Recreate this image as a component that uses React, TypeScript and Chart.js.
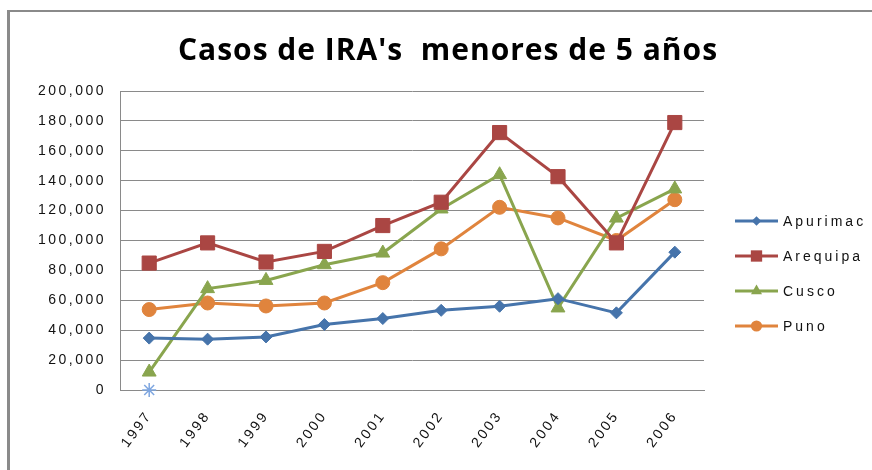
import React, { useEffect, useRef } from 'react';
import { Chart, registerables } from 'chart.js';

Chart.register(...registerables);

const TITLE = "Casos de IRA's  menores de 5 años";
const years = ['1997', '1998', '1999', '2000', '2001', '2002', '2003', '2004', '2005', '2006'];
const seriesNames = ['Apurimac', 'Arequipa', 'Cusco', 'Puno'];
const apurimac = [34700, 34000, 35500, 43800, 47800, 53300, 56000, 61100, 51600, 92200];
const arequipa = [84900, 98400, 85600, 92700, 110000, 125600, 172200, 142700, 98400, 178900];
const cusco = [12000, 67800, 73300, 83800, 91600, 121100, 144000, 54900, 115000, 134500];
const puno = [53800, 58200, 56200, 58200, 71800, 94400, 122200, 115100, 100000, 127300];
const stray = [0, null, null, null, null, null, null, null, null, null];

const yMin = 0;
const yMax = 200000;
const yStep = 20000;

const colors = ['#4674AB', '#AA4643', '#89A54E', '#E0843D'];
const pointStyles = ['rectRot', 'rect', 'triangle', 'circle'];
const pointRadii = [6, 10, 8, 7];

const TICK_FONT = { family: 'Liberation Sans', size: 14 };
const SPACING = '2.5px';

function drawMarker(ctx: CanvasRenderingContext2D, style: string, x: number, y: number, r: number) {
  ctx.beginPath();
  if (style === 'rectRot') {
    ctx.moveTo(x, y - r);
    ctx.lineTo(x + r, y);
    ctx.lineTo(x, y + r);
    ctx.lineTo(x - r, y);
    ctx.closePath();
  } else if (style === 'rect') {
    const s = r * Math.SQRT1_2;
    ctx.rect(x - s, y - s, 2 * s, 2 * s);
  } else if (style === 'triangle') {
    ctx.moveTo(x, y - r);
    ctx.lineTo(x + r * 0.866, y + r * 0.5);
    ctx.lineTo(x - r * 0.866, y + r * 0.5);
    ctx.closePath();
  } else {
    ctx.arc(x, y, r, 0, Math.PI * 2);
  }
  ctx.fill();
}

const decorPlugin = {
  id: 'decor',
  beforeUpdate(chart: any) {
    chart.ctx.letterSpacing = SPACING;
  },
  beforeDraw(chart: any) {
    const ctx = chart.ctx as CanvasRenderingContext2D;
    ctx.save();
    ctx.fillStyle = '#ffffff';
    ctx.fillRect(0, 0, chart.width, chart.height);
    ctx.fillStyle = '#8a8a8a';
    ctx.fillRect(7, 10, chart.width - 7, 2);
    ctx.fillRect(7, 10, 3, chart.height - 10);
    ctx.restore();
    (ctx as any).letterSpacing = SPACING;
  },
  afterDraw(chart: any) {
    const ctx = chart.ctx as CanvasRenderingContext2D;
    ctx.save();
    (ctx as any).letterSpacing = '1px';
    ctx.fillStyle = '#000000';
    ctx.font = 'bold 30px "Open Sans"';
    ctx.textAlign = 'center';
    ctx.textBaseline = 'alphabetic';
    ctx.fillText(TITLE, 448, 60);

    (ctx as any).letterSpacing = '3px';
    ctx.font = '14px "Liberation Sans"';
    ctx.textAlign = 'left';
    ctx.textBaseline = 'middle';
    seriesNames.forEach((name, i) => {
      const y = 221 + i * 35;
      ctx.strokeStyle = colors[i];
      ctx.fillStyle = colors[i];
      ctx.lineWidth = 3;
      ctx.beginPath();
      ctx.moveTo(735, y);
      ctx.lineTo(778, y);
      ctx.stroke();
      drawMarker(ctx, pointStyles[i], 756.5, y, pointRadii[i] * 0.8);
      ctx.fillStyle = '#111111';
      ctx.fillText(name, 783, y + 1);
    });
    ctx.restore();
  },
};

export default function App() {
  const ref = useRef<HTMLCanvasElement>(null);

  useEffect(() => {
    if (!ref.current) return;
    const seriesData = [apurimac, arequipa, cusco, puno];
    const datasets: any[] = seriesData.map((d, i) => ({
      label: seriesNames[i],
      data: d,
      borderColor: colors[i],
      backgroundColor: colors[i],
      borderWidth: 3,
      pointStyle: pointStyles[i],
      pointRadius: pointRadii[i],
      pointBorderWidth: 1,
      pointBackgroundColor: colors[i],
      pointBorderColor: colors[i],
      tension: 0,
      clip: false,
    }));
    datasets.push({
      label: '',
      data: stray,
      borderColor: '#7EA6E0',
      backgroundColor: '#7EA6E0',
      borderWidth: 0,
      showLine: false,
      pointStyle: 'star',
      pointRadius: 7,
      pointBorderWidth: 1.5,
      pointBorderColor: '#7EA6E0',
      clip: false,
    });

    const chart = new Chart(ref.current, {
      type: 'line',
      data: { labels: years, datasets },
      plugins: [decorPlugin],
      options: {
        animation: false,
        responsive: false,
        devicePixelRatio: 1,
        layout: { padding: { top: 91, left: 10, right: 168, bottom: 0 } },
        plugins: {
          legend: { display: false },
          title: { display: false },
          tooltip: { enabled: false },
        },
        scales: {
          x: {
            offset: true,
            grid: { display: false, drawTicks: false },
            border: { display: true, color: '#8a8a8a', width: 1 },
            ticks: {
              color: '#111111',
              font: TICK_FONT,
              minRotation: 53,
              maxRotation: 53,
              padding: 18,
              autoSkip: false,
            },
            afterFit: (s: any) => {
              s.height = 80;
            },
          },
          y: {
            min: yMin,
            max: yMax,
            grid: { color: '#8a8a8a', lineWidth: 1, drawTicks: false },
            border: { display: true, color: '#8a8a8a', width: 1 },
            ticks: {
              stepSize: yStep,
              color: '#111111',
              font: TICK_FONT,
              padding: 14,
              callback: (v: any) => Number(v).toLocaleString('en-US'),
            },
            afterFit: (s: any) => {
              s.width = 110;
            },
          },
        },
      },
    });
    return () => chart.destroy();
  }, []);

  return (
    <div style={{ position: 'fixed', left: 0, top: 0, width: 872, height: 470, background: '#fff' }}>
      <canvas ref={ref} width={872} height={470} style={{ display: 'block', width: 872, height: 470 }} />
    </div>
  );
}
